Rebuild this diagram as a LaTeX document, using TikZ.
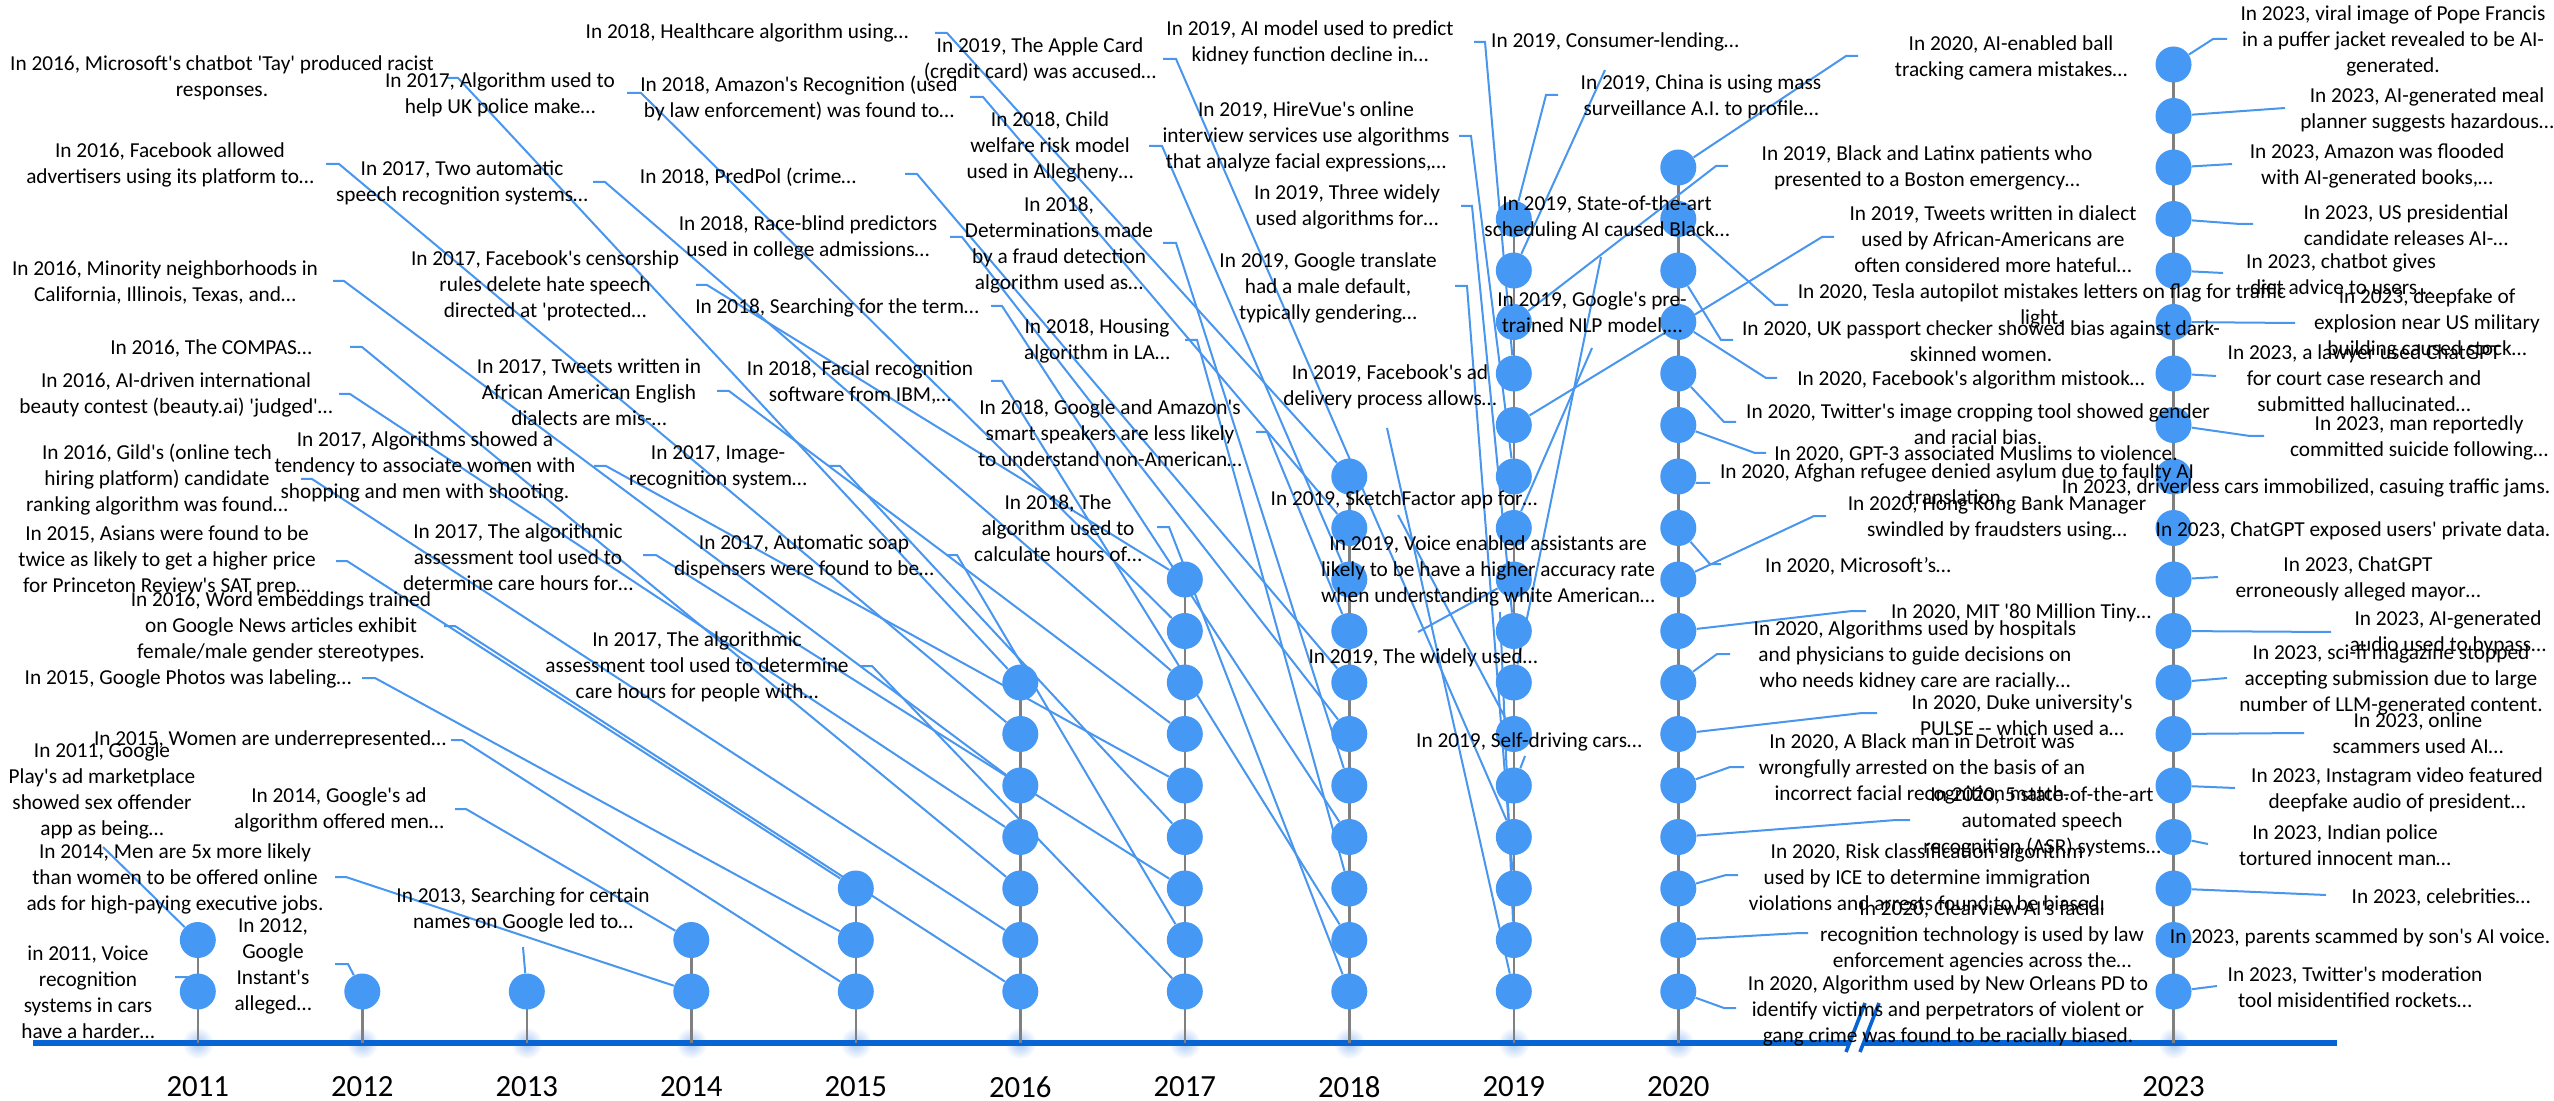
\documentclass[tikz,border=0pt]{standalone}
\usepackage{fontspec}
\setmainfont{Carlito}[Ligatures=TeXOff]
\pgfdeclarelayer{bg}
\pgfsetlayers{bg,main}
\definecolor{dotblue}{RGB}{70,152,245}
\definecolor{connblue}{RGB}{72,150,238}
\definecolor{axisblue}{RGB}{8,100,210}
\definecolor{stemgray}{RGB}{128,128,128}
\definecolor{glowblue}{RGB}{170,200,245}
\newcommand\mytick[5]{\coordinate (#1a) at (#2,#4); \coordinate (#1b) at (#3,#4);
  \begin{pgfonlayer}{bg}\draw[conn] (#5) -- (#1a) -- (#1b);\end{pgfonlayer}}
\newcommand\myleader[4]{\coordinate (#1) at (#2,#3);
  \begin{pgfonlayer}{bg}\draw[conn] (#4) -- (#1);\end{pgfonlayer}}
\begin{document}
\begin{tikzpicture}[x=0.5pt,y=-0.5pt,
  lbl/.style={font=\fontsize{10.65}{13}\selectfont, align=center, inner sep=0pt, text=black},
  yr/.style={font=\fontsize{15.4}{18}\selectfont, inner sep=0pt, text=black},
  dot/.style={circle, fill=dotblue, minimum size=18pt, inner sep=0pt},
  conn/.style={draw=connblue, line width=1pt},
  stem/.style={draw=stemgray, line width=1.3pt},
  axisline/.style={draw=axisblue, line width=3.4pt}]
\useasboundingbox (0,0) rectangle (2554,1101);
\begin{pgfonlayer}{bg}
\fill[white] (0,0) rectangle (2554,1101);
\foreach \xx in {197.8,362.3,526.8,691.3,855.8,1020.3,1184.8,1349.3,1513.8,1678.3,2173.5}
  \shade[inner color=glowblue, outer color=white] (\xx,1043) circle (8pt);
\coordinate (axL) at (33,1043);
\coordinate (axR) at (2337,1043);
\draw[axisline] (axL) -- (axR);
\end{pgfonlayer}
\foreach \yr/\xx/\n in {2011/197.8/2, 2012/362.3/1, 2013/526.8/1, 2014/691.3/2, 2015/855.8/3, 2016/1020.3/7, 2017/1184.8/9, 2018/1349.3/11, 2019/1513.8/16, 2020/1678.3/17, 2023/2173.5/19} {
  \begin{pgfonlayer}{bg}
  \draw[stem] (\xx,1043) -- (\xx,{1043-51.5*\n});
  \end{pgfonlayer}
  \foreach \k in {1,...,\n} \node[dot] (d\yr-\k) at (\xx,{1043-51.5*\k}) {};
  \node[yr] (y\yr) at (\xx,1087) {\yr};
}
% break mark
\coordinate (bk1) at (1846,1052); \coordinate (bk2) at (1865,1003);
\coordinate (bk3) at (1879,1003); \coordinate (bk4) at (1860,1052);
\fill[white] (bk1) -- (bk2) -- (bk3) -- (bk4) -- cycle;
\draw[draw=axisblue, line width=1.8pt] (bk1) -- (bk2) (bk4) -- (bk3);

% ---------- 2011
\node[lbl] (t11a) at (102,791) {In 2011, Google\\Play's ad marketplace\\showed sex offender\\app as being…};
\myleader{t11aL}{103}{847}{d2011-2}
\node[lbl] (t11b) at (88,992) {in 2011, Voice\\recognition\\systems in cars\\have a harder…};
\mytick{t11bL}{187}{175}{977}{d2011-1}
% ---------- 2012, 2013
\node[lbl] (t12) at (273,966) {In 2012,\\Google\\Instant's\\alleged…};
\mytick{t12L}{348}{335}{964}{d2012-1}
\node[lbl] (t13) at (523,910) {In 2013, Searching for certain\\names on Google led to…};
\myleader{t13L}{523}{947}{d2013-1}
% ---------- 2014
\node[lbl] (t14a) at (339,810) {In 2014, Google's ad\\algorithm offered men…};
\mytick{t14aL}{466}{455}{809}{d2014-2}
\node[lbl] (t14b) at (175,879) {In 2014, Men are 5x more likely\\than women to be offered online\\ads for high-paying executive jobs.};
\mytick{t14bL}{346}{335}{877}{d2014-1}
% ---------- 2015
\node[lbl] (t15a) at (167,561) {In 2015, Asians were found to be\\twice as likely to get a higher price\\for Princeton Review's SAT prep…};
\mytick{t15aL}{347}{336}{561}{d2015-3}
\node[lbl] (t15b) at (188,679) {In 2015, Google Photos was labeling…};
\mytick{t15bL}{375}{362}{678}{d2015-2}
\node[lbl] (t15c) at (270,740) {In 2015, Women are underrepresented…};
\mytick{t15cL}{462}{451}{740}{d2015-1}
% ---------- 2016
\node[lbl] (t16a) at (222,78) {In 2016, Microsoft's chatbot 'Tay' produced racist\\responses.};
\mytick{t16aL}{458}{446}{78}{d2016-7}
\node[lbl] (t16b) at (170,165) {In 2016, Facebook allowed\\advertisers using its platform to…};
\mytick{t16bL}{339}{326}{164}{d2016-6}
\node[lbl] (t16c) at (165,282.5) {In 2016, Minority neighborhoods in\\California, Illinois, Texas, and…};
\mytick{t16cL}{344}{333}{281}{d2016-5}
\node[lbl] (t16d) at (211,348) {In 2016, The COMPAS…};
\mytick{t16dL}{362}{350}{347}{d2016-3}
\node[lbl] (t16e) at (176,394.5) {In 2016, AI-driven international\\beauty contest (beauty.ai) 'judged'…};
\mytick{t16eL}{350}{339}{394}{d2016-4}
\node[lbl] (t16f) at (157,480) {In 2016, Gild's (online tech\\hiring platform) candidate\\ranking algorithm was found…};
\mytick{t16fL}{312}{301}{479}{d2016-2}
\node[lbl] (t16g) at (281,627) {In 2016, Word embeddings trained\\on Google News articles exhibit\\female/male gender stereotypes.};
\mytick{t16gL}{455}{444}{626}{d2016-1}
% ---------- 2017
\node[lbl] (t17a) at (500,95) {In 2017, Algorithm used to\\help UK police make…};
\mytick{t17aL}{641}{627}{93}{d2017-8}
\node[lbl] (t17b) at (462,183) {In 2017, Two automatic\\speech recognition systems…};
\mytick{t17bL}{605}{593}{182}{d2017-7}
\node[lbl] (t17c) at (545,286) {In 2017, Facebook's censorship\\rules delete hate speech\\directed at 'protected…};
\mytick{t17cL}{707}{696}{285}{d2017-9}
\node[lbl] (t17d) at (589,392) {In 2017, Tweets written in\\African American English\\dialects are mis-…};
\mytick{t17dL}{729}{717}{391}{d2017-6}
\node[lbl] (t17e) at (425,467) {In 2017, Algorithms showed a\\tendency to associate women with\\shopping and men with shooting.};
\mytick{t17eL}{606}{594}{466}{d2017-5}
\node[lbl] (t17f) at (718,467) {In 2017, Image-\\recognition system…};
\mytick{t17fL}{840}{828}{466}{d2017-4}
\node[lbl] (t17g) at (518,557) {In 2017, The algorithmic\\assessment tool used to\\determine care hours for…};
\mytick{t17gL}{656}{643}{555}{d2017-3}
\node[lbl] (t17h) at (804,557) {In 2017, Automatic soap\\dispensers were found to be…};
\mytick{t17hL}{957}{946}{555}{d2017-2}
\node[lbl] (t17i) at (697,667) {In 2017, The algorithmic\\assessment tool used to determine\\care hours for people with…};
\mytick{t17iL}{872}{861}{666}{d2017-1}
% ---------- 2018
\node[lbl] (t18a) at (747,33) {In 2018, Healthcare algorithm using…};
\mytick{t18aL}{947}{935}{33}{d2018-11}
\node[lbl] (t18b) at (799,98) {In 2018, Amazon's Recognition (used\\by law enforcement) was found to…};
\mytick{t18bL}{983}{970}{97}{d2018-10}
\node[lbl] (t18c) at (748,177) {In 2018, PredPol (crime…};
\mytick{t18cL}{917}{905}{174}{d2018-7}
\node[lbl] (t18d) at (808,238) {In 2018, Race-blind predictors\\used in college admissions…};
\mytick{t18dL}{962}{950}{237}{d2018-6}
\node[lbl] (t18e) at (1050,147) {In 2018, Child\\welfare risk model\\used in Allegheny…};
\mytick{t18eL}{1162}{1149}{146}{d2018-9}
\node[lbl] (t18f) at (1059,245) {In 2018,\\Determinations made\\by a fraud detection\\algorithm used as…};
\mytick{t18fL}{1176}{1163}{243}{d2018-5}
\node[lbl] (t18g) at (837,308) {In 2018, Searching for the term…};
\mytick{t18gL}{1002}{991}{306}{d2018-4}
\node[lbl] (t18h) at (1097,341) {In 2018, Housing\\algorithm in LA…};
\mytick{t18hL}{1197}{1185}{340}{d2018-3}
\node[lbl] (t18i) at (860,382.5) {In 2018, Facial recognition\\software from IBM,…};
\mytick{t18iL}{1002}{991}{381}{d2018-2}
\node[lbl] (t18j) at (1110,432.7) {In 2018, Google and Amazon's\\smart speakers are less likely\\to understand non-American…};
\mytick{t18jL}{1267}{1256}{432}{d2018-8}
\node[lbl] (t18k) at (1058,527.7) {In 2018, The\\algorithm used to\\calculate hours of…};
\mytick{t18kL}{1169}{1157}{527}{d2018-1}
% ---------- 2019
\node[lbl] (t19a) at (1040,60) {In 2019, The Apple Card\\(credit card) was accused…};
\mytick{t19aL}{1176}{1163}{59}{d2019-4}
\node[lbl] (t19b) at (1310,43) {In 2019, AI model used to predict\\kidney function decline in…};
\mytick{t19bL}{1485}{1474}{42}{d2019-13}
\node[lbl] (t19c) at (1306,137) {In 2019, HireVue's online\\interview services use algorithms\\that analyze facial expressions,…};
\mytick{t19cL}{1471}{1459}{136}{d2019-11}
\node[lbl] (t19d) at (1347,207) {In 2019, Three widely\\used algorithms for…};
\mytick{t19dL}{1472}{1461}{206}{d2019-8}
\node[lbl] (t19e) at (1328,288) {In 2019, Google translate\\had a male default,\\typically gendering…};
\mytick{t19eL}{1467}{1455}{286}{d2019-3}
\node[lbl] (t19f) at (1390,386.5) {In 2019, Facebook's ad\\delivery process allows…};
\myleader{t19fL}{1387}{428}{d2019-1}
\node[lbl] (t19g) at (1404,500) {In 2019, SketchFactor app for…};
\myleader{t19gL}{1398}{515}{d2019-6}
\node[lbl] (t19h) at (1488,571) {In 2019, Voice enabled assistants are\\likely to be have a higher accuracy rate\\when understanding white American…};
\myleader{t19hL}{1500}{612}{d2019-2}
\node[lbl] (t19i) at (1423,658) {In 2019, The widely used…};
\myleader{t19iL}{1418}{632}{d2019-9}
\node[lbl] (t19j) at (1529,742) {In 2019, Self-driving cars…};
\myleader{t19jL}{1525}{756}{d2019-5}
\node[lbl] (t19k) at (1615,42) {In 2019, Consumer-lending…};
\myleader{t19kL}{1605}{70}{d2019-15}
\node[lbl] (t19l) at (1701,97) {In 2019, China is using mass\\surveillance A.I. to profile…};
\mytick{t19lL}{1546}{1558}{95}{d2019-16}
\node[lbl] (t19m) at (1607,218) {In 2019, State-of-the-art\\scheduling AI caused Black…};
\myleader{t19mL}{1601}{257}{d2019-7}
\node[lbl] (t19n) at (1592,313.5) {In 2019, Google's pre-\\trained NLP model,…};
\myleader{t19nL}{1592}{348}{d2019-10}
\node[lbl] (t19o) at (1927,167.5) {In 2019, Black and Latinx patients who\\presented to a Boston emergency…};
\mytick{t19oL}{1716}{1728}{166}{d2019-14}
\node[lbl] (t19p) at (1993,238.7) {In 2019, Tweets written in dialect\\used by African-Americans are\\often considered more hateful…};
\mytick{t19pL}{1822}{1834}{237}{d2019-12}
% ---------- 2020
\node[lbl] (t20a) at (2011,57.5) {In 2020, AI-enabled ball\\tracking camera mistakes…};
\mytick{t20aL}{1846}{1858}{56}{d2020-17}
\node[lbl] (t20b) at (2042,305.5) {In 2020, Tesla autopilot mistakes letters on flag for traffic\\light.};
\mytick{t20bL}{1775}{1788}{305}{d2020-16}
\node[lbl] (t20c) at (1981,341) {In 2020, UK passport checker showed bias against dark-\\skinned women.};
\mytick{t20cL}{1721}{1733}{340}{d2020-15}
\node[lbl] (t20d) at (1971,380) {In 2020, Facebook's algorithm mistook…};
\mytick{t20dL}{1766}{1777}{378}{d2020-14}
\node[lbl] (t20e) at (1978,424) {In 2020, Twitter's image cropping tool showed gender\\and racial bias.};
\mytick{t20eL}{1724}{1736}{422}{d2020-13}
\node[lbl] (t20f) at (1976,454) {In 2020, GPT-3 associated Muslims to violence.};
\mytick{t20fL}{1755}{1766}{453}{d2020-12}
\node[lbl] (t20g) at (1957,484.5) {In 2020, Afghan refugee denied asylum due to faulty AI\\translation.};
\mytick{t20gL}{1697}{1710}{483}{d2020-11}
\node[lbl] (t20h) at (1997,517.5) {In 2020, Hong Kong Bank Manager\\swindled by fraudsters using…};
\mytick{t20hL}{1814}{1826}{516}{d2020-9}
\node[lbl] (t20i) at (1858,566) {In 2020, Microsoft’s…};
\mytick{t20iL}{1710}{1721}{564}{d2020-10}
\node[lbl] (t20j) at (2021,613) {In 2020, MIT '80 Million Tiny…};
\mytick{t20jL}{1852}{1866}{611}{d2020-8}
\node[lbl] (t20k) at (1915,656) {In 2020, Algorithms used by hospitals\\and physicians to guide decisions on\\who needs kidney care are racially…};
\mytick{t20kL}{1717}{1730}{654}{d2020-7}
\node[lbl] (t20l) at (2022,715) {In 2020, Duke university's\\PULSE -- which used a…};
\mytick{t20lL}{1862}{1877}{713}{d2020-6}
\node[lbl] (t20m) at (1922,768.7) {In 2020, A Black man in Detroit was\\wrongfully arrested on the basis of an\\incorrect facial recognition match.};
\mytick{t20mL}{1730}{1744}{767}{d2020-5}
\node[lbl] (t20n) at (2042,822) {In 2020, 5 state-of-the-art\\automated speech\\recognition (ASR) systems…};
\mytick{t20nL}{1896}{1910}{820}{d2020-4}
\node[lbl] (t20o) at (1927,877) {In 2020, Risk classification algorithm\\used by ICE to determine immigration\\violations and arrests found to be biased.};
\mytick{t20oL}{1726}{1738}{875}{d2020-3}
\node[lbl] (t20p) at (1982,936) {In 2020, Clearview AI's facial\\recognition technology is used by law\\enforcement agencies across the…};
\mytick{t20pL}{1800}{1808}{933}{d2020-2}
\node[lbl] (t20q) at (1948,1011) {In 2020, Algorithm used by New Orleans PD to\\identify victims and perpetrators of violent or\\gang crime was found to be racially biased.};
\mytick{t20qL}{1724}{1736}{1008}{d2020-1}
% ---------- 2023
\node[lbl] (t23a) at (2393,41) {In 2023, viral image of Pope Francis\\in a puffer jacket revealed to be AI-\\generated.};
\mytick{t23aL}{2213}{2227}{39}{d2023-19}
\node[lbl] (t23b) at (2427,110) {In 2023, AI-generated meal\\planner suggests hazardous…};
\myleader{t23bL}{2285}{108}{d2023-18}
\node[lbl] (t23c) at (2377,166) {In 2023, Amazon was flooded\\with AI-generated books,…};
\myleader{t23cL}{2232}{164}{d2023-17}
\node[lbl] (t23d) at (2406,225.5) {In 2023, US presidential\\candidate releases AI-…};
\mytick{t23dL}{2240}{2253}{224}{d2023-16}
\node[lbl] (t23e) at (2341,274) {In 2023, chatbot gives\\diet advice to users…};
\myleader{t23eL}{2223}{273}{d2023-15}
\node[lbl] (t23f) at (2427,324) {In 2023, deepfake of\\explosion near US military\\building caused stock…};
\myleader{t23fL}{2295}{323}{d2023-14}
\node[lbl] (t23g) at (2364,378) {In 2023, a lawyer used ChatGPT\\for court case research and\\submitted hallucinated…};
\myleader{t23gL}{2216}{376}{d2023-13}
\node[lbl] (t23h) at (2419,438) {In 2023, man reportedly\\committed suicide following…};
\mytick{t23hL}{2250}{2264}{436}{d2023-12}
\node[lbl] (t23i) at (2306,488) {In 2023, driverless cars immobilized, casuing traffic jams.};
\node[lbl] (t23j) at (2353,531) {In 2023, ChatGPT exposed users' private data.};
\node[lbl] (t23k) at (2358,579) {In 2023, ChatGPT\\erroneously alleged mayor…};
\myleader{t23kL}{2218}{577}{d2023-9}
\node[lbl] (t23l) at (2448,632.5) {In 2023, AI-generated\\audio used to bypass…};
\myleader{t23lL}{2331}{632}{d2023-8}
\node[lbl] (t23m) at (2391,680) {In 2023, sci-fi magazine stopped\\accepting submission due to large\\number of LLM-generated content.};
\myleader{t23mL}{2227}{678}{d2023-7}
\node[lbl] (t23n) at (2418,733.5) {In 2023, online\\scammers used AI…};
\myleader{t23nL}{2304}{733}{d2023-6}
\node[lbl] (t23o) at (2397,790) {In 2023, Instagram video featured\\deepfake audio of president…};
\myleader{t23oL}{2235}{788}{d2023-5}
\node[lbl] (t23p) at (2345,845.5) {In 2023, Indian police\\tortured innocent man…};
\myleader{t23pL}{2208}{844}{d2023-4}
\node[lbl] (t23q) at (2441,897) {In 2023, celebrities…};
\myleader{t23qL}{2326}{895}{d2023-3}
\node[lbl] (t23r) at (2360,938) {In 2023, parents scammed by son's AI voice.};
\node[lbl] (t23s) at (2355,987) {In 2023, Twitter's moderation\\tool misidentified rockets…};
\myleader{t23sL}{2217}{986}{d2023-1}
\end{tikzpicture}
\end{document}
